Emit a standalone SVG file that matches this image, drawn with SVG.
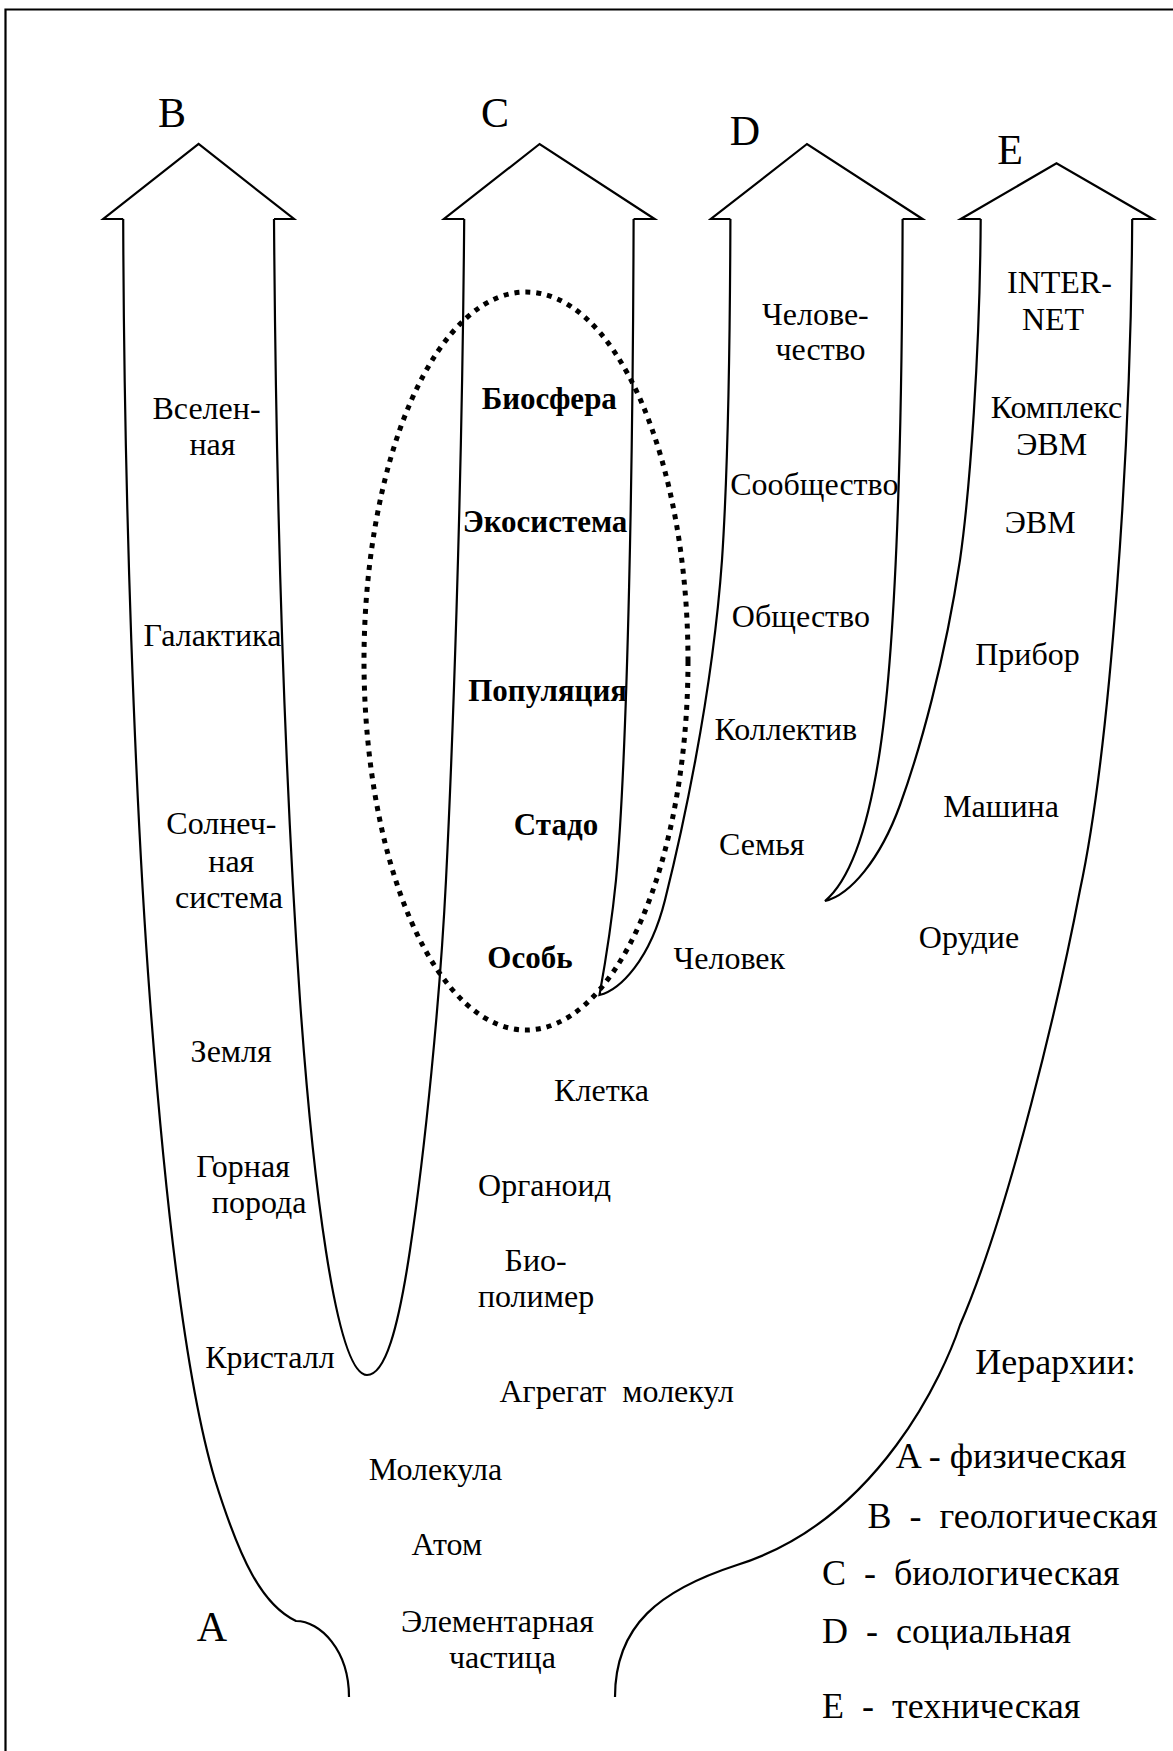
<svg xmlns="http://www.w3.org/2000/svg" width="1173" height="1751" viewBox="0 0 1173 1751">
<style>
.ln{fill:none;stroke:#000;stroke-width:2.2;stroke-linejoin:miter}
.t{font-family:"Liberation Serif","Times New Roman",serif;font-size:32px;fill:#000;text-anchor:middle}
.b{font-family:"Liberation Serif","Times New Roman",serif;font-size:31px;font-weight:bold;fill:#000;text-anchor:middle}
.big{font-family:"Liberation Serif","Times New Roman",serif;font-size:42px;fill:#000;text-anchor:middle}
.lg{font-family:"Liberation Serif","Times New Roman",serif;font-size:36px;fill:#000}
</style>
<rect width="1173" height="1751" fill="#fff"/>
<g id="frame"><path d="M5.5,1751 V9.5 H1173" fill="none" stroke="#000" stroke-width="2.2"/></g>
<g id="connectors">
<path class="ln" d="M123.2,219 C124,500 135,800 150,1000 C165,1200 185,1380 215,1480 C240,1560 262,1605 296,1621 C320,1621 349,1650 349,1697"/>
<path class="ln" d="M274,219 C276,500 283,750 300,1000 C312,1170 335,1375 367,1375 C385,1375 398,1330 410,1250 C425,1150 440,1000 446,880 C452,760 462,500 464.2,219"/>
<path class="ln" d="M633.6,219 C633,450 628,750 616,880 C611,930 604,970 599.5,995 C620,990 650,960 665,900 C680,840 712,700 722,560 C728,470 730,350 730.4,219"/>
<path class="ln" d="M902.6,219 C902,450 895,650 880,750 C868,830 850,880 825,901 C850,895 880,860 900,805 C920,750 945,660 960,560 C970,490 980,350 980.7,219"/>
<path class="ln" d="M1132.2,219 C1131,450 1110,750 1080,890 C1060,995 1010,1210 960,1325 C945,1370 880,1520 737,1565 C660,1590 615,1625 615,1697"/>
<polyline class="ln" points="123.2,219 103.3,219 198.6,144 294,219 274,219"/>
<polyline class="ln" points="464.2,219 444,219 539.6,144 654.6,219 633.6,219"/>
<polyline class="ln" points="730.4,219 710.9,219 807,144 922.5,219 902.6,219"/>
<polyline class="ln" points="980.7,219 960.8,219 1056.5,163.3 1152.9,219 1132.2,219"/>
<ellipse cx="526" cy="661" rx="162" ry="369" fill="none" stroke="#000" stroke-width="5" stroke-dasharray="5 6"/>
</g>
<g id="hier-letters">
<text class="big" x="172" y="127">B</text>
<text class="big" x="495" y="127">C</text>
<text class="big" x="745" y="145">D</text>
<text class="big" x="1010" y="164">E</text>
<text class="big" x="212" y="1641">A</text>
</g>
<g id="n-vselennaya"><text class="t" x="206.5" y="419">Вселен-</text><text class="t" x="212.5" y="455">ная</text></g>
<g id="n-galaktika"><text class="t" x="212.4" y="646">Галактика</text></g>
<g id="n-solnechnaya"><text class="t" x="221.4" y="834">Солнеч-</text><text class="t" x="231.3" y="872">ная</text><text class="t" x="228.9" y="908">система</text></g>
<g id="n-zemlya"><text class="t" x="231.2" y="1062">Земля</text></g>
<g id="n-gornaya"><text class="t" x="243" y="1177">Горная</text><text class="t" x="259.2" y="1213">порода</text></g>
<g id="n-kristall"><text class="t" x="269.9" y="1368">Кристалл</text></g>
<g id="n-biosfera"><text class="b" x="549.3" y="409">Биосфера</text></g>
<g id="n-ekosistema"><text class="b" x="545" y="532">Экосистема</text></g>
<g id="n-populyaciya"><text class="b" x="547.7" y="701">Популяция</text></g>
<g id="n-stado"><text class="b" x="556" y="835">Стадо</text></g>
<g id="n-osob"><text class="b" x="530" y="968">Особь</text></g>
<g id="n-kletka"><text class="t" x="601.5" y="1101">Клетка</text></g>
<g id="n-organoid"><text class="t" x="544.5" y="1196">Органоид</text></g>
<g id="n-biopolimer"><text class="t" x="535.7" y="1271">Био-</text><text class="t" x="536" y="1307">полимер</text></g>
<g id="n-agregat"><text class="t" x="499.4" y="1402" style="text-anchor:start" xml:space="preserve">Агрегат  молекул</text></g>
<g id="n-molekula"><text class="t" x="435.5" y="1480">Молекула</text></g>
<g id="n-atom"><text class="t" x="446.8" y="1555">Атом</text></g>
<g id="n-chastica"><text class="t" x="497.5" y="1632">Элементарная</text><text class="t" x="502.4" y="1668">частица</text></g>
<g id="n-chelovechestvo"><text class="t" x="815.4" y="325">Челове-</text><text class="t" x="820.5" y="360">чество</text></g>
<g id="n-soobshchestvo"><text class="t" x="814.3" y="495">Сообщество</text></g>
<g id="n-obshchestvo"><text class="t" x="800.9" y="627">Общество</text></g>
<g id="n-kollektiv"><text class="t" x="785.8" y="740">Коллектив</text></g>
<g id="n-semya"><text class="t" x="761.8" y="855">Семья</text></g>
<g id="n-chelovek"><text class="t" x="729.3" y="969">Человек</text></g>
<g id="n-internet"><text class="t" x="1059.4" y="293">INTER-</text><text class="t" x="1053" y="330">NET</text></g>
<g id="n-kompleks"><text class="t" x="1056.5" y="418">Комплекс</text><text class="t" x="1051.7" y="455">ЭВМ</text></g>
<g id="n-evm"><text class="t" x="1040.2" y="533">ЭВМ</text></g>
<g id="n-pribor"><text class="t" x="1027.4" y="665">Прибор</text></g>
<g id="n-mashina"><text class="t" x="1001" y="817">Машина</text></g>
<g id="n-orudie"><text class="t" x="969" y="948">Орудие</text></g>
<g id="legend">
<text class="lg" x="1055.6" y="1374" style="text-anchor:middle">Иерархии:</text>
<text class="lg" x="895.8" y="1468" xml:space="preserve">A - физическая</text>
<text class="lg" x="867.4" y="1528" xml:space="preserve">B  -  геологическая</text>
<text class="lg" x="822" y="1585" xml:space="preserve">C  -  биологическая</text>
<text class="lg" x="822" y="1643" xml:space="preserve">D  -  социальная</text>
<text class="lg" x="822" y="1718" xml:space="preserve">E  -  техническая</text>
</g>
</svg>
